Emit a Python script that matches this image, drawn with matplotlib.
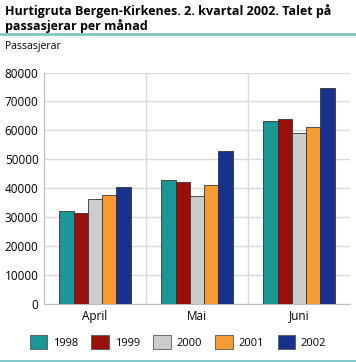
import numpy as np
import matplotlib.pyplot as plt
from matplotlib.patches import Patch
from matplotlib.lines import Line2D

plt.rcParams['font.family'] = ['Open Sans', 'DejaVu Sans']

maanader = ['April', 'Mai', 'Juni']
aar = ['1998', '1999', '2000', '2001', '2002']
farger = ['#1a9696', '#990f0a', '#cccccc', '#f79a33', '#17318f']

p1998 = [32300, 43000, 63200]
p1999 = [31600, 42200, 64000]
p2000 = [36400, 37200, 59000]
p2001 = [37800, 41000, 61300]
p2002 = [40600, 52800, 74500]
serier = [p1998, p1999, p2000, p2001, p2002]

fig = plt.figure(figsize=(3.56, 3.62), dpi=100)
ax = fig.add_axes([44/356, 58/362, 306/356, 231.5/362])

x = np.arange(len(maanader))
b = 0.14
for i, (verdi, f) in enumerate(zip(serier, farger)):
    ax.bar(x + (i - 2) * b, verdi, b, color=f, edgecolor='#333333', linewidth=0.6, zorder=3)

ax.set_xlim(-0.5, 2.5)
ax.set_ylim(0, 80000)
ax.set_yticks(np.arange(0, 80001, 10000))
ax.set_xticks(x)
ax.set_xticklabels(maanader)
ax.yaxis.grid(True, color='#d9d9d9', linewidth=1, zorder=0)
for xv in [0.5, 1.5]:
    ax.axvline(xv, color='#d9d9d9', linewidth=1, zorder=0)
for s in ['top', 'right']:
    ax.spines[s].set_visible(False)
ax.spines['left'].set_color('#bbbbbb')
ax.spines['bottom'].set_color('#bbbbbb')
ax.tick_params(axis='both', length=0, labelsize=8.5, pad=4, colors='black')

fig.text(5/356, 1 - 4/362, 'Hurtigruta Bergen-Kirkenes. 2. kvartal 2002. Talet på\npassasjerar per månad',
         fontsize=9, fontweight='bold', va='top', ha='left', linespacing=1.1)
fig.add_artist(Line2D([0, 1], [1 - 33.5/362, 1 - 33.5/362], color='#7fc6c6', linewidth=2))
fig.text(5/356, 1 - 47/362, 'Passasjerar', fontsize=7.5, va='center', ha='left')

handles = [Patch(facecolor=f, edgecolor='#555555', linewidth=0.6, label=a) for a, f in zip(aar, farger)]
fig.legend(handles=handles, loc='center', bbox_to_anchor=(0.5, 1 - 342/362), ncol=5, frameon=False,
           fontsize=8, handlelength=1.6, handleheight=1.6, handletextpad=0.5, columnspacing=1.2)
fig.add_artist(Line2D([0, 1], [1 - 361/362, 1 - 361/362], color='#7fc6c6', linewidth=2))

fig.savefig('out.png', dpi=100)
